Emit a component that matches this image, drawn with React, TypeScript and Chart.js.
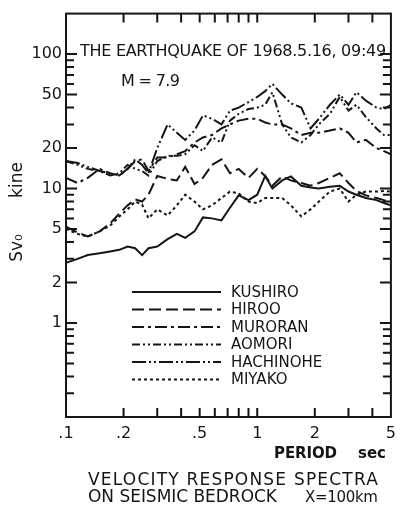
import React, { useEffect, useRef } from "react";
import { Chart, registerables } from "chart.js";
Chart.register(...registerables);

const periods = [0.1, 0.115, 0.13, 0.15, 0.17, 0.19, 0.21, 0.23, 0.25, 0.27, 0.3, 0.34, 0.38, 0.42, 0.47, 0.52, 0.58, 0.65, 0.72, 0.8, 0.9, 1.0, 1.1, 1.2, 1.35, 1.5, 1.7, 1.9, 2.1, 2.4, 2.7, 3.0, 3.3, 3.7, 4.2, 4.6, 5.0];

const kushiro = [2.8, 3.0, 3.2, 3.3, 3.4, 3.5, 3.7, 3.6, 3.2, 3.6, 3.7, 4.2, 4.6, 4.3, 4.8, 6.1, 6.0, 5.8, 7.2, 8.9, 8.2, 9.0, 12.4, 10.0, 11.5, 12.3, 10.5, 10.2, 10.0, 10.3, 10.5, 9.5, 9.0, 8.5, 8.2, 7.8, 7.5];
const hiroo = [5.2, 4.7, 4.4, 4.8, 5.5, 6.5, 7.5, 8.3, 8.0, 9.0, 12.4, 11.8, 11.5, 14.5, 10.8, 12.0, 15.0, 16.5, 13.0, 14.0, 12.0, 14.0, 12.4, 10.5, 12.3, 11.5, 11.0, 10.5, 11.0, 12.0, 13.0, 11.0, 9.6, 8.9, 8.5, 8.2, 8.0];
const muroran = [12, 11, 12, 14, 13, 12.5, 14, 16, 16.5, 13.5, 17, 17, 18, 19, 22, 24, 25, 28, 30, 32, 33, 33, 31, 30, 30, 28, 25, 26, 26, 27, 28, 26, 22, 23, 20, 19, 18];
const aomori = [16, 15, 14, 13.5, 12.5, 13, 15, 14, 13.5, 12.5, 16, 17.5, 17.5, 18, 21, 19, 24, 22, 32, 36, 39, 40, 42, 52, 30, 24, 22, 25, 30, 36, 48, 38, 42, 34, 28, 25, 25];
const hachinohe = [16, 15.5, 14.5, 13.5, 13, 12.5, 14, 16.5, 15, 13, 20, 30, 26, 23, 27, 35, 33, 30, 38, 40, 44, 48, 53, 60, 50, 43, 40, 28, 33, 42, 50, 42, 52, 45, 40, 39, 42];
const miyako = [5.0, 4.6, 4.4, 4.8, 5.3, 6.2, 7.0, 8.0, 7.6, 6.0, 7.0, 6.3, 7.5, 9.0, 8.0, 7.0, 7.5, 8.5, 9.5, 9.2, 8.0, 7.8, 8.5, 8.5, 8.5, 7.5, 6.2, 7.0, 8.0, 9.5, 10.0, 8.0, 9.0, 9.5, 9.5, 9.6, 9.5];

const stationNames = ["KUSHIRO", "HIROO", "MURORAN", "AOMORI", "HACHINOHE", "MIYAKO"];
const stationValues = [kushiro, hiroo, muroran, aomori, hachinohe, miyako];
const stationDashes = [[], [12, 5], [12, 4, 3, 4], [8, 3, 2, 3, 2, 3], [14, 3, 2, 3, 2, 3], [3, 3]];

const xTickValues = [0.1, 0.2, 0.3, 0.4, 0.5, 0.6, 0.7, 0.8, 0.9, 1, 2, 3, 4, 5];
const xTickLabels: Record<string, string> = { "0.1": ".1", "0.2": ".2", "0.5": ".5", "1": "1", "2": "2", "5": "5" };
const yTickValues = [0.2, 0.3, 0.4, 0.5, 0.6, 0.7, 0.8, 0.9, 1, 2, 3, 4, 5, 6, 7, 8, 9, 10, 20, 30, 40, 50, 60, 70, 80, 90, 100, 200];
const yTickLabels: Record<string, string> = { "1": "1", "2": "2", "5": "5", "10": "10", "20": "20", "50": "50", "100": "100" };

const titleText = "THE EARTHQUAKE OF 1968.5.16, 09:49";
const magnitudeText = "M = 7.9";
const xTitleMain = "PERIOD";
const xTitleUnit = "sec";
const yTitleMain = "Sv\u2080";
const yTitleUnit = "kine";
const footer1 = "VELOCITY RESPONSE SPECTRA";
const footer2a = "ON SEISMIC BEDROCK";
const footer2b = "X=100km";

const FONT = "'DejaVu Sans', sans-serif";
const INK = "#151515";

const key = (v: number) => String(Math.round(v * 1000) / 1000);

function fitText(ctx: any, text: string, x1: number, x2: number, y: number) {
  ctx.save();
  ctx.textAlign = "left";
  ctx.letterSpacing = "0px";
  const w = ctx.measureText(text).width;
  const n = Math.max(1, text.length - 1);
  const sp = (x2 - x1 - w) / n;
  ctx.letterSpacing = `${sp.toFixed(2)}px`;
  ctx.fillText(text, x1, y);
  ctx.restore();
}

const overlay = {
  id: "overlay",
  afterDraw(chart: any) {
    const { ctx, chartArea: a, scales } = chart;
    const xs = scales.x;
    const ys = scales.y;
    ctx.save();
    ctx.strokeStyle = INK;
    ctx.fillStyle = INK;
    ctx.lineWidth = 2;
    ctx.setLineDash([]);
    ctx.strokeRect(a.left, a.top, a.right - a.left, a.bottom - a.top);
    xs.ticks.forEach((t: any) => {
      const v = t.value;
      if (v <= 0.1 + 1e-6 || v >= 5 - 1e-6) return;
      const px = xs.getPixelForValue(v);
      ctx.beginPath();
      ctx.moveTo(px, a.bottom);
      ctx.lineTo(px, a.bottom - 9);
      ctx.moveTo(px, a.top);
      ctx.lineTo(px, a.top + 9);
      ctx.stroke();
    });
    ys.ticks.forEach((t: any) => {
      const v = t.value;
      if (v <= 0.2 + 1e-6 || v > 100 + 1e-6) return;
      const py = ys.getPixelForValue(v);
      const len = yTickLabels[key(v)] ? 11 : 8;
      ctx.beginPath();
      ctx.moveTo(a.left, py);
      ctx.lineTo(a.left + len, py);
      ctx.moveTo(a.right, py);
      ctx.lineTo(a.right - len, py);
      ctx.stroke();
    });
    ctx.textBaseline = "middle";
    ctx.textAlign = "left";
    ctx.font = `16px ${FONT}`;
    fitText(ctx, titleText, 80, 386, 52);
    fitText(ctx, magnitudeText, 121, 180, 82);
    chart.data.datasets.forEach((ds: any, i: number) => {
      const ly = 292 + i * 17.5;
      ctx.save();
      ctx.lineWidth = 2;
      ctx.setLineDash(ds.borderDash || []);
      ctx.beginPath();
      ctx.moveTo(132, ly);
      ctx.lineTo(221, ly);
      ctx.stroke();
      ctx.restore();
      ctx.font = `15px ${FONT}`;
      ctx.textAlign = "left";
      ctx.fillText(ds.label, 231, ly + 1);
    });
    ctx.textBaseline = "alphabetic";
    ctx.font = `bold 15px ${FONT}`;
    fitText(ctx, xTitleMain, 274, 337, 458);
    fitText(ctx, xTitleUnit, 358, 386, 458);
    ctx.font = `17px ${FONT}`;
    fitText(ctx, footer1, 88, 378, 485);
    fitText(ctx, footer2a, 88, 277, 502);
    ctx.font = `15px ${FONT}`;
    fitText(ctx, footer2b, 305, 378, 502);
    ctx.textBaseline = "middle";
    ctx.save();
    ctx.translate(18, 0);
    ctx.rotate(-Math.PI / 2);
    ctx.font = `17px ${FONT}`;
    ctx.textAlign = "center";
    ctx.fillText(yTitleUnit, -180, 0);
    ctx.fillText(yTitleMain, -248, 0);
    ctx.restore();
    ctx.restore();
  },
};

export default function App() {
  const ref = useRef<HTMLCanvasElement | null>(null);
  useEffect(() => {
    if (!ref.current) return;
    const chart = new Chart(ref.current, {
      type: "line",
      data: {
        datasets: stationNames.map((name, i) => ({
          label: name,
          data: periods.map((p, j) => ({ x: p, y: stationValues[i][j] })),
          borderColor: INK,
          borderWidth: 2,
          borderDash: stationDashes[i],
          pointRadius: 0,
          fill: false,
          tension: 0,
        })),
      },
      options: {
        animation: false,
        responsive: false,
        devicePixelRatio: 1,
        layout: { padding: { top: 9, right: 6, left: 0, bottom: 0 } },
        plugins: { legend: { display: false }, tooltip: { enabled: false } },
        scales: {
          x: {
            type: "logarithmic",
            min: 0.1,
            max: 5,
            afterBuildTicks: (s: any) => {
              s.ticks = xTickValues.map((v) => ({ value: v }));
            },
            afterFit: (s: any) => {
              s.height = 108;
            },
            grid: { display: false, drawTicks: false },
            border: { display: false },
            ticks: {
              autoSkip: false,
              maxRotation: 0,
              padding: 7,
              color: INK,
              font: { family: FONT, size: 16 },
              callback: (v: any) => xTickLabels[key(Number(v))] || "",
            },
          },
          y: {
            type: "logarithmic",
            min: 0.2,
            max: 200,
            afterBuildTicks: (s: any) => {
              s.ticks = yTickValues.map((v) => ({ value: v }));
            },
            afterFit: (s: any) => {
              s.width = 66;
            },
            grid: { display: false, drawTicks: false },
            border: { display: false },
            ticks: {
              autoSkip: false,
              padding: 4,
              color: INK,
              font: { family: FONT, size: 16 },
              callback: (v: any) => yTickLabels[key(Number(v))] || "",
            },
          },
        },
      },
      plugins: [overlay],
    });
    return () => chart.destroy();
  }, []);
  return (
    <div style={{ position: "absolute", left: 0, top: 0, width: 403, height: 525, background: "#fff" }}>
      <canvas ref={ref} width={403} height={525} />
    </div>
  );
}
